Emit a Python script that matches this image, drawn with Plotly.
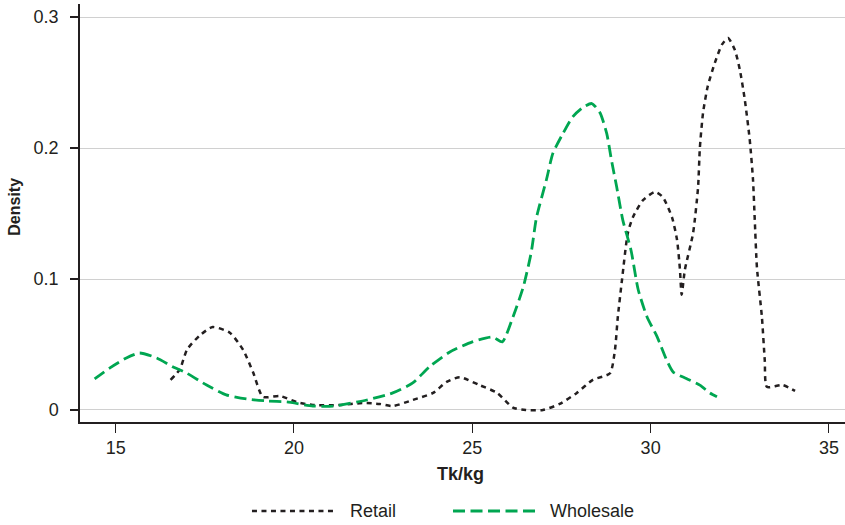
import plotly.graph_objects as go

retail_x = [16.54, 16.8, 17.0, 17.36, 17.72, 18.2, 18.57, 18.85, 19.13, 19.6, 20.08, 20.53, 21.28,
            21.93, 22.4, 22.77, 23.33, 23.9, 24.28, 24.65, 25.2, 25.7, 26.14, 26.5, 26.98, 27.45,
            27.93, 28.38, 28.86, 29.0, 29.08, 29.2, 29.36, 29.5, 29.78, 30.12, 30.34, 30.6, 30.74,
            30.82, 30.87, 30.96, 31.19, 31.33, 31.38, 31.47, 31.6, 31.8, 32.0, 32.17, 32.36, 32.5,
            32.64, 32.78, 32.87, 32.92, 32.98, 33.12, 33.2, 33.26, 33.7, 34.05]
retail_y = [0.023, 0.031, 0.046, 0.057, 0.0633, 0.059, 0.046, 0.029, 0.010, 0.0107, 0.006, 0.0038, 0.0038,
            0.0053, 0.0046, 0.003, 0.0076, 0.013, 0.0214, 0.025, 0.019, 0.013, 0.0018, 0.0, 0.0, 0.0046,
            0.013, 0.023, 0.028, 0.046, 0.071, 0.100, 0.135, 0.147, 0.160, 0.1665, 0.1626, 0.147, 0.130,
            0.108, 0.088, 0.107, 0.135, 0.170, 0.200, 0.227, 0.247, 0.265, 0.279, 0.284, 0.275, 0.260,
            0.237, 0.206, 0.176, 0.145, 0.109, 0.071, 0.038, 0.0176, 0.019, 0.0145]

wholesale_x = [14.41, 14.83, 15.3, 15.67, 16.15, 16.6, 17.0, 17.55, 18.1, 18.67, 19.23, 19.8, 20.53,
               21.1, 22.04, 22.77, 23.33, 23.8, 24.37, 25.0, 25.57, 25.84, 26.14, 26.43, 26.65, 26.8,
               27.08, 27.26, 27.54, 27.82, 28.1, 28.35, 28.58, 28.77, 28.9, 29.05, 29.22, 29.45, 29.65,
               29.9, 30.18, 30.45, 30.63, 31.0, 31.38, 31.66, 31.86]
wholesale_y = [0.0237, 0.032, 0.0397, 0.0435, 0.0397, 0.033, 0.028, 0.019, 0.0115, 0.0084, 0.0069, 0.0061, 0.003,
               0.003, 0.0076, 0.013, 0.0206, 0.033, 0.0443, 0.052, 0.0557, 0.052, 0.071, 0.094, 0.120, 0.147,
               0.176, 0.196, 0.211, 0.224, 0.231, 0.234, 0.227, 0.211, 0.191, 0.170, 0.145, 0.122, 0.092,
               0.071, 0.056, 0.038, 0.029, 0.024, 0.019, 0.013, 0.010]

x_ticks = [15, 20, 25, 30, 35]
y_ticks = [0, 0.1, 0.2, 0.3]
y_tick_labels = ["0", "0.1", "0.2", "0.3"]

BLACK = "#231f20"
GREEN = "#00a651"
FONT = "Liberation Sans, Arial, Helvetica, sans-serif"

fig = go.Figure()
fig.add_trace(go.Scatter(x=retail_x, y=retail_y, mode="lines", name="Retail",
                         line=dict(color=BLACK, width=2.5, dash="5px,4.5px", shape="spline", smoothing=0.6)))
fig.add_trace(go.Scatter(x=wholesale_x, y=wholesale_y, mode="lines", name="Wholesale",
                         line=dict(color=GREEN, width=2.8, dash="12px,5.5px", shape="spline", smoothing=0.6)))

fig.update_layout(
    width=845, height=525,
    margin=dict(l=80, r=0, t=4, b=103, autoexpand=False),
    paper_bgcolor="white", plot_bgcolor="white",
    showlegend=False,
    font=dict(family=FONT, size=18, color=BLACK),
    xaxis=dict(range=[14.0, 35.45], tickvals=x_ticks, ticks="outside", ticklen=9, tickwidth=1.2,
               tickcolor=BLACK, showline=True, linecolor=BLACK, linewidth=1.5, showgrid=False,
               zeroline=False, automargin=False, tickfont=dict(size=18, color=BLACK)),
    yaxis=dict(range=[-0.0092, 0.31], tickvals=y_ticks, ticktext=y_tick_labels, ticks="outside",
               ticklen=8, tickwidth=1.5, tickcolor=BLACK, showline=True, linecolor=BLACK, linewidth=1.5,
               showgrid=True, gridcolor="#d0d0d0", gridwidth=1, zeroline=False, automargin=False,
               ticklabelstandoff=8, tickfont=dict(size=18, color=BLACK)),
)

# axis titles
fig.add_annotation(text="<b>Tk/kg</b>", xref="paper", yref="paper", x=0.498, y=-0.124,
                   showarrow=False, font=dict(size=18, color=BLACK), xanchor="center", yanchor="middle")
fig.add_annotation(text="<b>Density</b>", xref="paper", yref="paper", x=-0.085, y=0.515,
                   showarrow=False, textangle=-90, font=dict(size=16, color=BLACK),
                   xanchor="center", yanchor="middle")

# custom legend
leg_y = -0.2129
fig.add_shape(type="line", xref="paper", yref="paper", x0=0.2248, x1=0.3307, y0=leg_y, y1=leg_y,
              line=dict(color=BLACK, width=2.5, dash="5px,4.5px"))
fig.add_annotation(text="Retail", xref="paper", yref="paper", x=0.3503, y=leg_y, showarrow=False,
                   xanchor="left", yanchor="middle", font=dict(size=18, color=BLACK))
fig.add_shape(type="line", xref="paper", yref="paper", x0=0.4876, x1=0.5948, y0=leg_y, y1=leg_y,
              line=dict(color=GREEN, width=2.8, dash="12px,5.5px"))
fig.add_annotation(text="Wholesale", xref="paper", yref="paper", x=0.6118, y=leg_y, showarrow=False,
                   xanchor="left", yanchor="middle", font=dict(size=18, color=BLACK))

fig.write_html("out.html", config={"displayModeBar": False},
               post_script="document.body.style.margin='0';document.body.style.overflow='hidden';")
